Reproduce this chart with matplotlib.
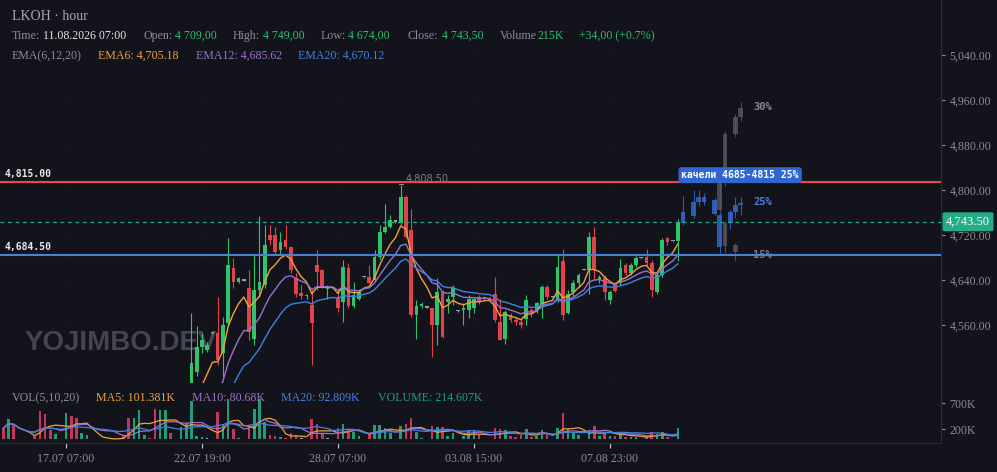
import numpy as np
import pandas as pd
import matplotlib
matplotlib.use('Agg')
import matplotlib.pyplot as plt
from matplotlib.transforms import blended_transform_factory

# ---------------- data (hourly candles, bar index 0..129) ----------------
opens = [4285, 4272, 4298, 4280, 4281, 4282, 4281, 4277, 4250, 4232,
         4224, 4235, 4236, 4270, 4248, 4226, 4237, 4243, 4244, 4245,
         4244, 4244, 4245, 4246, 4242, 4216, 4245, 4285, 4288, 4286,
         4246, 4286, 4322, 4310, 4311, 4348, 4400, 4477, 4521, 4516,
         4545, 4545, 4510, 4563, 4661, 4637, 4639, 4625, 4536, 4622,
         4631, 4720, 4720, 4693, 4712, 4699, 4643, 4617, 4611, 4596,
         4667, 4658, 4624, 4626, 4610, 4601, 4661, 4593, 4607, 4645,
         4646, 4640, 4681, 4726, 4735, 4744, 4741, 4788, 4729, 4578,
         4593, 4591, 4590, 4560, 4619, 4601, 4610, 4585, 4587, 4587,
         4590, 4610, 4608, 4607, 4616, 4566, 4536, 4578, 4569, 4566,
         4570, 4587, 4587, 4593, 4628, 4610, 4607, 4673, 4581, 4619,
         4634, 4658, 4658, 4717, 4640, 4643, 4605, 4634, 4634, 4667,
         4652, 4667, 4679, 4681, 4670, 4619, 4649, 4714, 4709, 4709]
highs = [4290, 4302, 4300, 4283, 4284, 4284, 4286, 4280, 4255, 4236,
         4238, 4237, 4275, 4272, 4250, 4240, 4246, 4245, 4246, 4246,
         4245, 4246, 4247, 4250, 4244, 4250, 4290, 4292, 4291, 4288,
         4290, 4330, 4325, 4313, 4352, 4400, 4581, 4558, 4545, 4530,
         4547, 4610, 4575, 4714, 4679, 4645, 4640, 4658, 4687, 4753,
         4738, 4738, 4735, 4726, 4738, 4700, 4652, 4631, 4616, 4622,
         4693, 4660, 4631, 4627, 4622, 4676, 4670, 4637, 4622, 4646,
         4667, 4693, 4738, 4776, 4756, 4746, 4808.5, 4791, 4767, 4604,
         4601, 4592, 4591, 4643, 4622, 4613, 4631, 4586, 4599, 4613,
         4610, 4613, 4609, 4609, 4646, 4607, 4587, 4581, 4572, 4570,
         4613, 4590, 4601, 4631, 4631, 4611, 4687, 4696, 4622, 4640,
         4652, 4659, 4726, 4735, 4649, 4649, 4622, 4637, 4678, 4670,
         4670, 4682, 4680, 4696, 4676, 4655, 4714, 4717, 4710, 4749]
lows = [4268, 4270, 4276, 4278, 4279, 4280, 4275, 4245, 4225, 4220,
        4222, 4233, 4234, 4245, 4222, 4224, 4235, 4241, 4243, 4243,
        4243, 4243, 4244, 4240, 4212, 4212, 4242, 4278, 4283, 4240,
        4242, 4282, 4305, 4307, 4308, 4345, 4390, 4470, 4510, 4512,
        4544, 4489, 4468, 4560, 4625, 4635, 4638, 4533, 4524, 4610,
        4625, 4702, 4687, 4687, 4695, 4652, 4610, 4607, 4607, 4489,
        4622, 4625, 4607, 4625, 4584, 4566, 4590, 4590, 4604, 4644,
        4634, 4637, 4678, 4723, 4732, 4742, 4738, 4714, 4575, 4536,
        4590, 4590, 4504, 4524, 4537, 4581, 4596, 4584, 4560, 4572,
        4581, 4598, 4607, 4603, 4566, 4533, 4527, 4566, 4560, 4555,
        4560, 4575, 4581, 4572, 4607, 4609, 4601, 4569, 4580, 4610,
        4628, 4657, 4616, 4640, 4634, 4604, 4598, 4619, 4631, 4649,
        4649, 4664, 4678, 4667, 4610, 4616, 4646, 4702, 4708, 4674]
closes = [4272, 4298, 4280, 4281, 4282, 4281, 4277, 4250, 4232, 4224,
          4235, 4236, 4270, 4248, 4226, 4237, 4243, 4244, 4245, 4244,
          4244, 4245, 4246, 4242, 4216, 4245, 4285, 4288, 4286, 4246,
          4286, 4322, 4310, 4311, 4348, 4395, 4492, 4521, 4533, 4524,
          4545, 4498, 4560, 4667, 4637, 4643, 4639, 4548, 4622, 4637,
          4702, 4711, 4690, 4708, 4698, 4658, 4616, 4611, 4614, 4563,
          4655, 4628, 4626, 4626, 4590, 4664, 4593, 4613, 4619, 4645,
          4635, 4681, 4726, 4735, 4747, 4744, 4788, 4717, 4578, 4593,
          4597, 4591, 4560, 4619, 4539, 4607, 4625, 4585, 4590, 4607,
          4607, 4601, 4608, 4605, 4569, 4533, 4584, 4569, 4566, 4560,
          4604, 4581, 4599, 4628, 4610, 4610, 4664, 4578, 4616, 4634,
          4649, 4658, 4717, 4658, 4646, 4619, 4619, 4620, 4661, 4652,
          4667, 4679, 4679, 4670, 4622, 4649, 4711, 4708, 4709, 4743.5]
volumes_k = [213, 390, 270, 15, 10, 12, 60, 540, 480, 180,
             110, 15, 500, 450, 420, 120, 85, 12, 10, 15,
             8, 12, 10, 60, 420, 420, 560, 90, 30, 580,
             570, 560, 130, 15, 240, 310, 740, 60, 40, 20,
             10, 520, 300, 780, 200, 30, 15, 250, 580, 780,
             340, 80, 60, 40, 30, 120, 90, 20, 15, 400,
             290, 100, 20, 15, 210, 290, 200, 150, 60, 10,
             100, 280, 280, 210, 120, 15, 250, 290, 420, 150,
             30, 10, 250, 240, 230, 60, 120, 10, 60, 180,
             160, 80, 10, 15, 220, 200, 190, 70, 40, 80,
             200, 40, 70, 190, 90, 10, 220, 500, 200, 120,
             90, 10, 180, 250, 60, 130, 70, 60, 150, 50,
             50, 40, 10, 60, 140, 100, 142.3, 40, 10.5, 214.607]

tick_idx = [12, 38, 64, 90, 116]
tick_labels = ['17.07 07:00', '22.07 19:00', '28.07 07:00', '03.08 15:00', '07.08 23:00']

level_hi = 4815.0
level_lo = 4684.5
last_price = 4743.5
high_mark_idx = 76

# scenario overlay candles drawn after the last bar
blue_idx = [130, 132, 133, 134, 136, 137, 139, 140, 141]
blue_open = [4742, 4753, 4779, 4779, 4782, 4756, 4741, 4761, 4773]
blue_high = [4790, 4800, 4800, 4794, 4785, 4760, 4765, 4788, 4788]
blue_low = [4738, 4750, 4772, 4774, 4755, 4688, 4730, 4750, 4755]
blue_close = [4761, 4779, 4788, 4788, 4757, 4699, 4761, 4773, 4777]
gray_idx = [137, 138, 140, 141, 138, 140]
gray_open = [4765, 4812, 4900, 4930, 4742, 4702]
gray_high = [4815, 4905, 4935, 4957, 4745, 4705]
gray_low = [4760, 4808, 4895, 4922, 4688, 4673]
gray_close = [4812, 4900, 4930, 4945, 4700, 4690]
scen_labels = ['30%', '25%', '15%']
scen_prices = [4947, 4779, 4684.5]

# ---------------- style ----------------
W, H = 997, 472
BG = '#13141b'
GRID = '#1d1e25'
SPINE = '#2c2d35'
TXT = '#8c8e95'
UP, DN, DOJI = '#2fc46b', '#e2424a', '#9c9ea5'
VUP, VDN = '#1f9d78', '#c2375a'
ORANGE, PURPLE, BLUE = '#eea23a', '#9b72c9', '#3f82e0'
TEAL = '#22ad86'
SERIF = 'Liberation Serif'
MONO = 'DejaVu Sans Mono'
plt.rcParams['font.family'] = SERIF

o = np.array(opens, float); h = np.array(highs, float)
l = np.array(lows, float); c = np.array(closes, float)
vol = np.array(volumes_k, float)
idx = np.arange(len(c))

fig = plt.figure(figsize=(W / 100, H / 100), dpi=100, facecolor=BG)
ax = fig.add_axes([0, 89 / H, 941 / W, 383 / H], facecolor=BG)
axv = fig.add_axes([0, 29 / H, 941 / W, 60 / H], facecolor=BG, sharex=ax)


def fx(x, y):
    return x / W, 1 - y / H


def candles(a, x, op, hi, lo, cl, up, dn, doji, width=0.7, alpha=1.0, z=2):
    op, hi, lo, cl = map(lambda v: np.asarray(v, float), (op, hi, lo, cl))
    col = np.where(cl > op, up, np.where(cl < op, dn, doji))
    a.vlines(x, lo, hi, colors=col, lw=0.8, alpha=alpha, zorder=z)
    bot = np.minimum(op, cl)
    hgt = np.maximum(np.abs(cl - op), 2.0)
    a.bar(x, hgt, width, bottom=bot, color=col, lw=0, alpha=alpha, zorder=z)


# ---------------- main panel ----------------
ax.set_xlim(-0.612, 179.3)
ax.set_ylim(4456.9, 5137.8)

ax.text(*fx(25, 343), 'YOJIMBO.DEV', transform=fig.transFigure, fontsize=20,
        fontweight='bold', family='Liberation Sans', color='#45464d',
        va='center', ha='left', zorder=0.5)

candles(ax, idx, o, h, l, c, UP, DN, DOJI)

cs = pd.Series(c)
for span, col in [(6, ORANGE), (12, PURPLE), (20, BLUE)]:
    ax.plot(idx, cs.ewm(span=span, adjust=False).mean(), color=col, lw=1.0, zorder=3)

# scenario overlay
candles(ax, gray_idx, gray_open, gray_high, gray_low, gray_close,
        '#5a5b62', '#5a5b62', '#5a5b62', width=0.9, alpha=0.75, z=2.2)
candles(ax, blue_idx, blue_open, blue_high, blue_low, blue_close,
        '#3566c8', '#3566c8', '#3566c8', width=0.9, alpha=0.85, z=2.4)
for lab, p, col in zip(scen_labels, scen_prices, ['#8a8b90', '#4a7fd6', '#7a7b80']):
    ax.text(143.4, p, lab, fontsize=7.5, family=MONO, fontweight='bold',
            color=col, va='center', ha='left', zorder=3)

ax.axhline(level_hi, color='#e5484d', lw=1.5, zorder=4)
ax.axhline(level_lo, color='#4a7fd6', lw=1.5, zorder=4)
ax.axhline(last_price, color=TEAL, lw=0.9, ls=(0, (3, 3)), zorder=4)

ax.text(140.9, 4826.5, 'качели 4685-4815 25%', fontsize=7.0, family=MONO,
        fontweight='bold', color='white', ha='center', va='center', zorder=6,
        bbox=dict(boxstyle='round,pad=0.3,rounding_size=0.3', fc='#2f66d0', ec='none'))

bt = blended_transform_factory(ax.transAxes, ax.transData)
ax.text(5 / 941, level_hi + 5, f'{level_hi:,.2f}', transform=bt, fontsize=7,
        family=MONO, fontweight='bold', color='#e8e8ea', va='bottom', ha='left')
ax.text(5 / 941, level_lo + 5, f'{level_lo:,.2f}', transform=bt, fontsize=7,
        family=MONO, fontweight='bold', color='#e8e8ea', va='bottom', ha='left')
ax.text(1 + 5 / 941, last_price, f'{last_price:,.2f}', transform=bt, fontsize=9,
        color='white', va='center', ha='left', clip_on=False, zorder=6,
        bbox=dict(boxstyle='round,pad=0.28,rounding_size=0.15', fc=TEAL, ec='none'))

hm = h[high_mark_idx]
ax.plot([high_mark_idx - 0.3, high_mark_idx + 0.5], [hm + 3, hm + 3], color=TXT, lw=0.8, zorder=3)
ax.text(high_mark_idx + 1.0, hm + 2, f'{hm:,.2f}', fontsize=7, family='DejaVu Sans',
        color='#7d7f86', va='bottom', ha='left', zorder=3)

ax.yaxis.tick_right()
ax.set_yticks(np.arange(4560, 5041, 80))
ax.set_yticklabels([f'{v:,.2f}' for v in np.arange(4560, 5041, 80)])
ax.tick_params(axis='y', colors='#8a8c92', labelsize=8.6, length=3, width=0.8, pad=3)
ax.tick_params(axis='x', bottom=False, labelbottom=False)
ax.set_xticks(tick_idx)
ax.grid(True, color=GRID, lw=0.7, ls=(0, (1, 9)))
for s in ['left', 'top']:
    ax.spines[s].set_visible(False)
for s in ['right', 'bottom']:
    ax.spines[s].set_color(SPINE)

# ---------------- volume panel ----------------
vcol = np.where(c > o, VUP, np.where(c < o, VDN, DOJI))
vcol = np.where(vol < 25, '#9a9ca2', vcol)
axv.bar(idx, vol, 0.5, color=vcol, lw=0, zorder=2)
vs = pd.Series(vol)
for n, col in [(5, ORANGE), (10, PURPLE), (20, BLUE)]:
    axv.plot(idx, vs.rolling(n, min_periods=1).mean(), color=col, lw=0.9, zorder=3)
axv.set_ylim(-69, 1085)
axv.yaxis.tick_right()
axv.set_yticks([200, 700])
axv.set_yticklabels(['200K', '700K'])
axv.tick_params(axis='y', colors='#8a8c92', labelsize=8.6, length=3, width=0.8, pad=3)
axv.set_xticks(tick_idx)
axv.set_xticklabels(tick_labels)
axv.tick_params(axis='x', color='#d0d1d5', labelcolor='#8a8c92', labelsize=8.6,
                length=3.5, width=0.8, pad=4)
axv.grid(True, axis='x', color=GRID, lw=0.7, ls=(0, (1, 9)))
for s in ['left', 'top']:
    axv.spines[s].set_visible(False)
for s in ['right', 'bottom']:
    axv.spines[s].set_color(SPINE)

# ---------------- header texts ----------------
def ftxt(x, y, s, col, size=8.6):
    fig.text(*fx(x, y), s, color=col, fontsize=size, va='center', ha='left', family=SERIF)


GRN = '#2ebd70'
ftxt(12, 17, 'LKOH · hour', '#a9abb0', 10)
for s, x, col in [('Time:', 12, TXT), ('11.08.2026 07:00', 43, '#e2e3e6'),
                  ('Open:', 143, TXT), ('4 709,00', 175, GRN),
                  ('High:', 233, TXT), ('4 749,00', 263, GRN),
                  ('Low:', 321, TXT), ('4 674,00', 348, GRN),
                  ('Close:', 408, TXT), ('4 743,50', 442, GRN),
                  ('Volume', 500, TXT), ('215K', 538, GRN),
                  ('+34,00 (+0.7%)', 579, GRN)]:
    ftxt(x, 36, s, col)
for s, x, col in [('EMA(6,12,20)', 12, TXT), ('EMA6: 4,705.18', 98, ORANGE),
                  ('EMA12: 4,685.62', 196, PURPLE), ('EMA20: 4,670.12', 298, BLUE)]:
    ftxt(x, 56, s, col)
for s, x, col in [('VOL(5,10,20)', 12, TXT), ('MA5: 101.381K', 96, ORANGE),
                  ('MA10: 80.68K', 192, PURPLE), ('MA20: 92.809K', 281, BLUE),
                  ('VOLUME: 214.607K', 378, '#1f9e7c')]:
    ftxt(x, 398, s, col)

fig.savefig('out.png', dpi=100, facecolor=BG)
